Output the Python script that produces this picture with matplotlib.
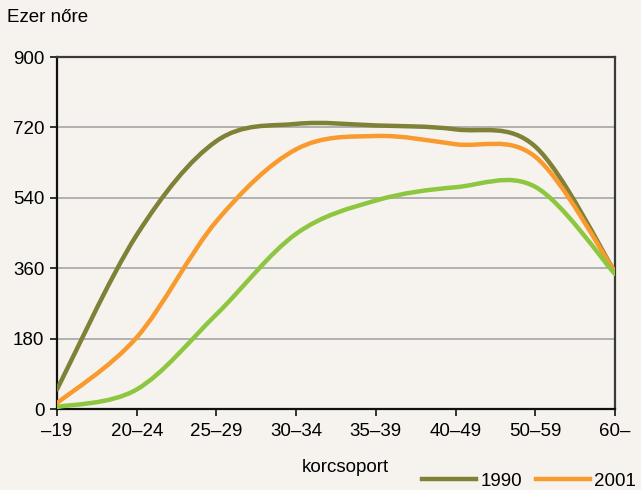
import numpy as np
import matplotlib
matplotlib.use('Agg')
import matplotlib.pyplot as plt
from matplotlib.path import Path
from matplotlib.patches import PathPatch
from matplotlib.lines import Line2D

plt.rcParams['font.family'] = ['Liberation Sans Narrow', 'Liberation Sans', 'DejaVu Sans']

# age groups and women (thousands) per census year
groups = ['–19', '20–24', '25–29', '30–34', '35–39', '40–49', '50–59', '60–']
y1990 = [50, 445, 685, 729, 725, 715, 671, 350]
y2001 = [15, 183, 480, 664, 698, 677, 645, 350]
y2011 = [5, 50, 242, 448, 533, 567, 568, 345]
years = ['1990', '2001', '2011']
colors = ['#7f8136', '#f99a2e', '#8dc63f']

BG = '#f6f3ef'


def smooth_path(xs, ys):
    # Excel-style smoothed line: Catmull-Rom segments as cubic Beziers
    p = np.column_stack([xs, ys]).astype(float)
    ext = np.vstack([p[0], p, p[-1]])
    verts = [p[0]]
    codes = [Path.MOVETO]
    for i in range(len(p) - 1):
        a, b, c, d = ext[i], ext[i + 1], ext[i + 2], ext[i + 3]
        verts += [b + (c - a) / 6, c - (d - b) / 6, c]
        codes += [Path.CURVE4] * 3
    return Path(verts, codes)


fig = plt.figure(figsize=(6.41, 4.90), dpi=100, facecolor=BG)
ax = fig.add_axes([57 / 641, 1 - 409 / 490, 558 / 641, 352 / 490])
ax.set_facecolor(BG)

x = np.arange(len(groups))
for vals, col in zip([y1990, y2001, y2011], colors):
    ax.add_patch(PathPatch(smooth_path(x, vals), fill=False, edgecolor=col,
                           lw=3.2, capstyle='round', zorder=3))

ax.set_xlim(0, len(groups) - 1)
ax.set_ylim(0, 900)
ax.set_yticks(np.arange(0, 901, 180))
ax.set_xticks(x)
ax.set_xticklabels(groups)
ax.yaxis.grid(True, color='#a6a6a6', lw=1.2)
ax.set_axisbelow(True)
for s in ['left', 'bottom']:
    ax.spines[s].set_color('#111111')
    ax.spines[s].set_linewidth(1.6)
for s in ['top', 'right']:
    ax.spines[s].set_color('#3a3a3a')
    ax.spines[s].set_linewidth(1.6)
ax.tick_params(axis='both', direction='out', length=5, width=1.2, color='#111111',
               labelsize=13.5, pad=4)
ax.tick_params(axis='x', pad=5)

fig.text(7 / 641, 1 - 18 / 490, 'Ezer nőre', fontsize=13.5, va='center', ha='left')
fig.text(345 / 641, 1 - 467 / 490, 'korcsoport', fontsize=13.5, va='center', ha='center')

# only the first two legend entries fit on the canvas in the original
handles = [Line2D([0], [0], color=c, lw=3.2, label=y) for c, y in zip(colors[:2], years[:2])]
fig.legend(handles=handles, loc='center left', bbox_to_anchor=(422 / 641, 1 - 481 / 490),
           ncol=2, frameon=False, fontsize=13.5, handlelength=2.9, handletextpad=0.2,
           columnspacing=0.75, borderpad=0, borderaxespad=0)

fig.savefig('out.png', dpi=100, facecolor=BG)
